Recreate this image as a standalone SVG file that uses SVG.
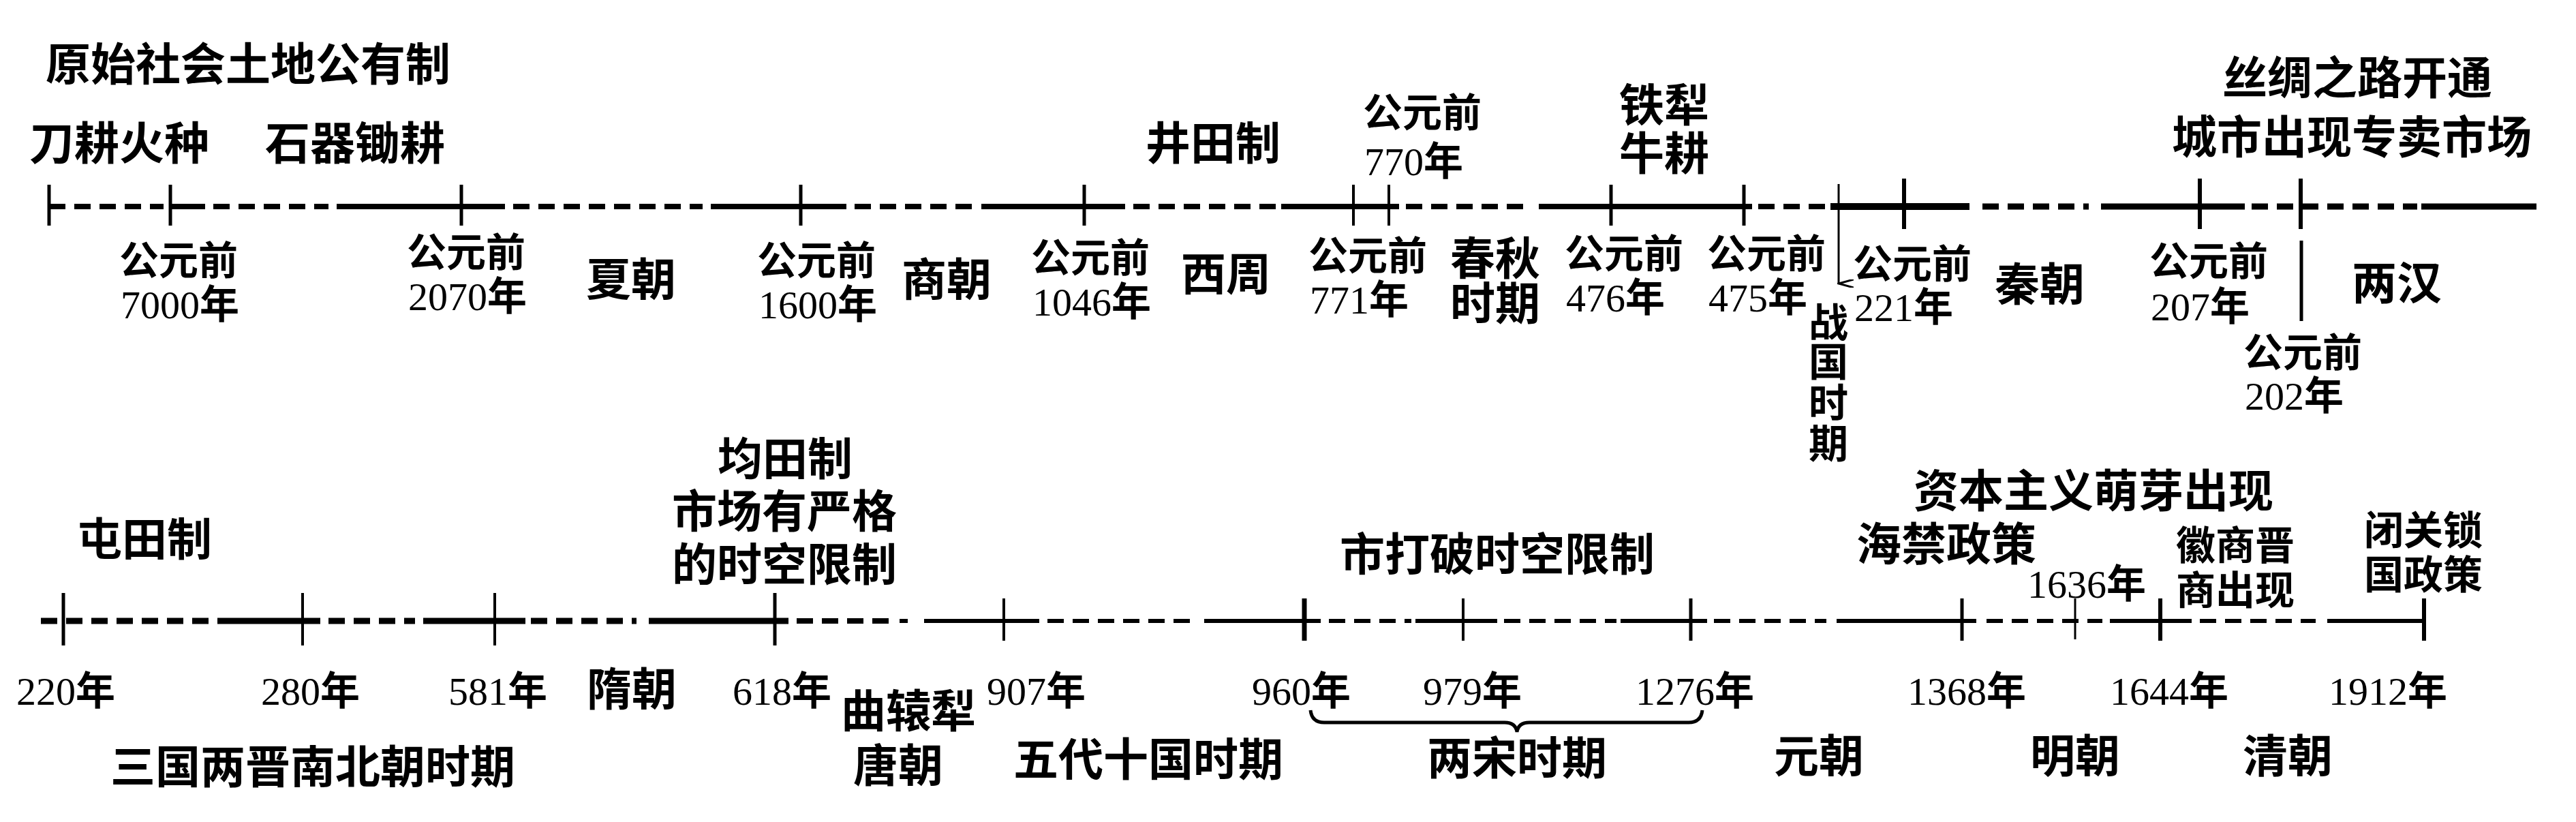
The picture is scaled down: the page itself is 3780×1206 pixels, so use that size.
<svg xmlns="http://www.w3.org/2000/svg" width="3780" height="1206" viewBox="0 0 3780 1206">
<style>
text{font-family:"Liberation Serif","Noto Sans CJK SC",serif;fill:#000;font-weight:bold}
.n{font-weight:normal}
.b{font-size:66px}
.s{font-size:58px}
.ax{stroke:#000;fill:none}
.d{stroke-dasharray:24 13}
.tk{stroke:#000}
</style>
<defs>
<marker id="arr" markerWidth="12" markerHeight="24" refX="6" refY="22" orient="auto" markerUnits="userSpaceOnUse">
<path d="M0,0 L6,22 L12,0" fill="none" stroke="#000" stroke-width="3"/>
</marker>
</defs>
<rect width="3780" height="1206" fill="#fff"/>
<g id="connectors">
<g id="top-axis" class="ax" stroke-width="8">
<line class="d" x1="72" y1="303" x2="240" y2="303"/>
<line x1="250" y1="303" x2="301" y2="303"/>
<line class="d" x1="313" y1="303" x2="482" y2="303"/>
<line x1="494" y1="303" x2="741" y2="303"/>
<line class="d" x1="753" y1="303" x2="1031" y2="303"/>
<line x1="1043" y1="303" x2="1242" y2="303"/>
<line class="d" x1="1254" y1="303" x2="1428" y2="303"/>
<line x1="1440" y1="303" x2="1651" y2="303"/>
<line class="d" x1="1663" y1="303" x2="1880" y2="303"/>
<line x1="1880" y1="303" x2="2053" y2="303"/>
<line class="d" x1="2063" y1="303" x2="2240" y2="303"/>
<line x1="2258" y1="303" x2="2571" y2="303"/>
<line class="d" x1="2580" y1="303" x2="2686" y2="303"/>
<line x1="2686" y1="303" x2="2890" y2="303" stroke-width="10"/>
<line class="d" x1="2909" y1="303" x2="3065" y2="303" stroke-width="9"/>
<line x1="3083" y1="303" x2="3294" y2="303" stroke-width="9"/>
<line class="d" x1="3304" y1="303" x2="3547" y2="303" stroke-width="9"/>
<line x1="3553" y1="303" x2="3722" y2="303" stroke-width="9"/>
</g>
<g id="top-ticks" class="tk" stroke-width="5">
<line x1="72" y1="271" x2="72" y2="331"/>
<line x1="250" y1="271" x2="250" y2="331"/>
<line x1="677" y1="271" x2="677" y2="331"/>
<line x1="1175" y1="271" x2="1175" y2="331"/>
<line x1="1591" y1="271" x2="1591" y2="331"/>
<line x1="1986" y1="271" x2="1986" y2="331" stroke-width="4"/>
<line x1="2038" y1="271" x2="2038" y2="331" stroke-width="4"/>
<line x1="2364" y1="271" x2="2364" y2="331"/>
<line x1="2559" y1="271" x2="2559" y2="331"/>
<line x1="2794" y1="262" x2="2794" y2="336" stroke-width="6"/>
<line x1="3228" y1="262" x2="3228" y2="336" stroke-width="6"/>
<line x1="3376" y1="262" x2="3376" y2="336" stroke-width="6"/>
<line x1="3377" y1="353" x2="3377" y2="471" stroke-width="5"/>
</g>
<line id="arrow-zhanguo" x1="2698" y1="270" x2="2698" y2="416" stroke="#000" stroke-width="3" marker-end="url(#arr)"/>
<g id="bottom-axis" class="ax" stroke-width="9">
<line class="d" x1="60" y1="911" x2="307" y2="911"/>
<line x1="319" y1="911" x2="470" y2="911"/>
<line class="d" x1="482" y1="911" x2="609" y2="911"/>
<line x1="621" y1="911" x2="771" y2="911"/>
<line class="d" x1="779" y1="911" x2="934" y2="911"/>
<line x1="952" y1="911" x2="1157" y2="911"/>
<line class="d" x1="1169" y1="911" x2="1314" y2="911" stroke-width="8"/>
<line x1="1320" y1="911" x2="1332" y2="911" stroke-width="6"/>
<line x1="1356" y1="911" x2="1525" y2="911" stroke-width="6"/>
<line class="d" x1="1537" y1="911" x2="1754" y2="911" stroke-width="6"/>
<line x1="1767" y1="911" x2="1938" y2="911" stroke-width="6"/>
<line class="d" x1="1950" y1="911" x2="2071" y2="911" stroke-width="6"/>
<line x1="2077" y1="911" x2="2197" y2="911" stroke-width="6"/>
<line class="d" x1="2207" y1="911" x2="2372" y2="911" stroke-width="6"/>
<line x1="2378" y1="911" x2="2505" y2="911" stroke-width="6"/>
<line class="d" x1="2515" y1="911" x2="2680" y2="911" stroke-width="6"/>
<line x1="2695" y1="911" x2="2900" y2="911" stroke-width="6"/>
<line class="d" x1="2915" y1="911" x2="3085" y2="911" stroke-width="6"/>
<line x1="3096" y1="911" x2="3216" y2="911" stroke-width="6"/>
<line class="d" x1="3228" y1="911" x2="3398" y2="911" stroke-width="6"/>
<line x1="3415" y1="911" x2="3557" y2="911" stroke-width="6"/>
</g>
<g id="bottom-ticks" class="tk" stroke-width="5">
<line x1="93" y1="870" x2="93" y2="947"/>
<line x1="444" y1="870" x2="444" y2="947" stroke-width="4"/>
<line x1="726" y1="870" x2="726" y2="947" stroke-width="4"/>
<line x1="1137" y1="870" x2="1137" y2="947"/>
<line x1="1473" y1="878" x2="1473" y2="940" stroke-width="4"/>
<line x1="1914" y1="878" x2="1914" y2="940" stroke-width="7"/>
<line x1="2147" y1="878" x2="2147" y2="940" stroke-width="4"/>
<line x1="2481" y1="878" x2="2481" y2="940"/>
<line x1="2879" y1="878" x2="2879" y2="940"/>
<line x1="3045" y1="878" x2="3045" y2="938" stroke-width="3"/>
<line x1="3170" y1="878" x2="3170" y2="940" stroke-width="6"/>
<line x1="3557" y1="878" x2="3557" y2="940" stroke-width="6"/>
</g>
<path id="brace-song" d="M1923,1042 Q1925,1060 1943,1060 L2208,1060 Q2224,1060 2226,1074 Q2228,1060 2244,1060 L2478,1060 Q2496,1060 2498,1042" fill="none" stroke="#000" stroke-width="5"/>
</g>

<g id="top-labels">
<g id="n-yuanshi"><text class="b" x="67" y="118">原始社会土地公有制</text></g>
<g id="n-daogeng"><text class="b" x="43" y="234">刀耕火种</text></g>
<g id="n-shiqi"><text class="b" x="389" y="234">石器锄耕</text></g>
<g id="n-jingtian"><text class="b" x="1681" y="234">井田制</text></g>
<g id="n-7000"><text class="s" x="175" y="403">公元前</text><text class="s" x="177" y="467"><tspan class="n">7000</tspan>年</text></g>
<g id="n-2070"><text class="s" x="597" y="391">公元前</text><text class="s" x="599" y="455"><tspan class="n">2070</tspan>年</text></g>
<g id="n-xia"><text class="b" x="860" y="434">夏朝</text></g>
<g id="n-1600"><text class="s" x="1111" y="403">公元前</text><text class="s" x="1113" y="467"><tspan class="n">1600</tspan>年</text></g>
<g id="n-shang"><text class="b" x="1323" y="434">商朝</text></g>
<g id="n-1046"><text class="s" x="1513" y="399">公元前</text><text class="s" x="1515" y="463"><tspan class="n">1046</tspan>年</text></g>
<g id="n-xizhou"><text class="b" x="1733" y="426">西周</text></g>
<g id="n-771"><text class="s" x="1920" y="396">公元前</text><text class="s" x="1922" y="460"><tspan class="n">771</tspan>年</text></g>
<g id="n-770"><text class="s" x="2000" y="186">公元前</text><text class="s" x="2002" y="257"><tspan class="n">770</tspan>年</text></g>
<g id="n-chunqiu"><text class="b" x="2128" y="403">春秋</text><text class="b" x="2128" y="469">时期</text></g>
<g id="n-tieli"><text class="b" x="2376" y="178">铁犁</text><text class="b" x="2376" y="249">牛耕</text></g>
<g id="n-476"><text class="s" x="2296" y="393">公元前</text><text class="s" x="2298" y="457"><tspan class="n">476</tspan>年</text></g>
<g id="n-475"><text class="s" x="2505" y="393">公元前</text><text class="s" x="2507" y="457"><tspan class="n">475</tspan>年</text></g>
<g id="n-zhanguo"><text class="s" x="2654" y="494">战</text><text class="s" x="2654" y="552">国</text><text class="s" x="2654" y="612">时</text><text class="s" x="2654" y="672">期</text></g>
<g id="n-221"><text class="s" x="2719" y="408">公元前</text><text class="s" x="2721" y="471"><tspan class="n">221</tspan>年</text></g>
<g id="n-qin"><text class="b" x="2927" y="441">秦朝</text></g>
<g id="n-207"><text class="s" x="3154" y="404">公元前</text><text class="s" x="3156" y="470"><tspan class="n">207</tspan>年</text></g>
<g id="n-202"><text class="s" x="3292" y="538">公元前</text><text class="s" x="3294" y="601"><tspan class="n">202</tspan>年</text></g>
<g id="n-lianghan"><text class="b" x="3451" y="439">两汉</text></g>
<g id="n-silu"><text class="b" x="3261" y="138">丝绸之路开通</text></g>
<g id="n-chengshi"><text class="b" x="3187" y="225">城市出现专卖市场</text></g>
</g>

<g id="bottom-labels">
<g id="n-tuntian"><text class="b" x="113" y="815">屯田制</text></g>
<g id="n-juntian"><text class="b" x="1053" y="697">均田制</text><text class="b" x="986" y="774">市场有严格</text><text class="b" x="986" y="852">的时空限制</text></g>
<g id="n-dapo"><text class="b" x="1966" y="837">市打破时空限制</text></g>
<g id="n-ziben"><text class="b" x="2808" y="744">资本主义萌芽出现</text></g>
<g id="n-haijin"><text class="b" x="2724" y="822">海禁政策</text></g>
<g id="n-1636"><text class="s" x="2975" y="877"><tspan class="n">1636</tspan>年</text></g>
<g id="n-huishang"><text class="s" x="3193" y="821">徽商晋</text><text class="s" x="3193" y="887">商出现</text></g>
<g id="n-biguan"><text class="s" x="3469" y="799">闭关锁</text><text class="s" x="3469" y="864">国政策</text></g>
<g id="n-220"><text class="s" x="24" y="1034"><tspan class="n">220</tspan>年</text></g>
<g id="n-280"><text class="s" x="383" y="1034"><tspan class="n">280</tspan>年</text></g>
<g id="n-581"><text class="s" x="658" y="1034"><tspan class="n">581</tspan>年</text></g>
<g id="n-sui"><text class="b" x="861" y="1035">隋朝</text></g>
<g id="n-618"><text class="s" x="1075" y="1034"><tspan class="n">618</tspan>年</text></g>
<g id="n-quyuanli"><text class="b" x="1234" y="1067">曲辕犁</text></g>
<g id="n-907"><text class="s" x="1448" y="1034"><tspan class="n">907</tspan>年</text></g>
<g id="n-960"><text class="s" x="1837" y="1034"><tspan class="n">960</tspan>年</text></g>
<g id="n-979"><text class="s" x="2088" y="1034"><tspan class="n">979</tspan>年</text></g>
<g id="n-1276"><text class="s" x="2400" y="1034"><tspan class="n">1276</tspan>年</text></g>
<g id="n-1368"><text class="s" x="2799" y="1034"><tspan class="n">1368</tspan>年</text></g>
<g id="n-1644"><text class="s" x="3096" y="1034"><tspan class="n">1644</tspan>年</text></g>
<g id="n-1912"><text class="s" x="3417" y="1034"><tspan class="n">1912</tspan>年</text></g>
<g id="n-sanguo"><text class="b" x="162" y="1149">三国两晋南北朝时期</text></g>
<g id="n-tang"><text class="b" x="1252" y="1147">唐朝</text></g>
<g id="n-wudai"><text class="b" x="1487" y="1138">五代十国时期</text></g>
<g id="n-liangsong"><text class="b" x="2094" y="1136">两宋时期</text></g>
<g id="n-yuan"><text class="b" x="2603" y="1133">元朝</text></g>
<g id="n-ming"><text class="b" x="2979" y="1133">明朝</text></g>
<g id="n-qing"><text class="b" x="3291" y="1133">清朝</text></g>
</g>
</svg>
